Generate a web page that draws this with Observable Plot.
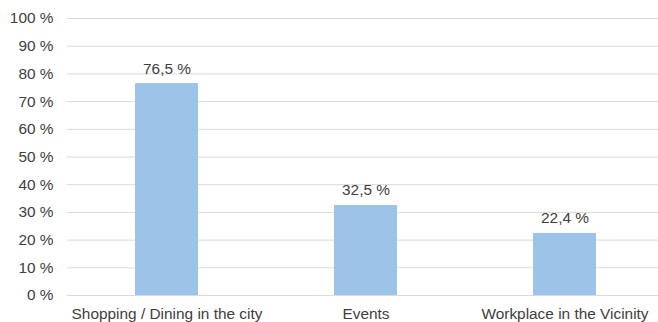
<!DOCTYPE html>
<html>
<head>
<meta charset="utf-8">
<script src="https://cdn.jsdelivr.net/npm/d3@7"></script>
<script src="https://cdn.jsdelivr.net/npm/@observablehq/plot@0.6"></script>
<style>
  html, body { margin: 0; padding: 0; background: #fff; overflow: hidden; }
  #chart svg { display: block; }
</style>
</head>
<body>
<div id="chart"></div>
<script>
// Share of respondents per reason (percent)
const categories = ["Shopping / Dining in the city", "Events", "Workplace in the Vicinity"];
const shares = [76.5, 32.5, 22.4];
const yTicks = [0, 10, 20, 30, 40, 50, 60, 70, 80, 90, 100];

const data = categories.map((c, i) => ({category: c, value: shares[i]}));
const pct = d => `${String(d).replace(".", ",")} %`;
const fs = 15.4;

const chart = Plot.plot({
  width: 658,
  height: 322,
  marginTop: 18,
  marginBottom: 27,
  marginLeft: 67,
  marginRight: 0,
  style: {fontFamily: "'Liberation Sans', Arial, sans-serif", fontSize: `${fs}px`, color: "#404040", background: "#fff"},
  x: {domain: categories, range: [67, 664], paddingInner: 0.683, paddingOuter: 0.3415, label: null},
  y: {domain: [0, 100], label: null},
  marks: [
    Plot.ruleY(yTicks, {stroke: "#d9d9d9", strokeWidth: 1}),
    Plot.barY(data, {x: "category", y: "value", fill: "#9cc3e8"}),
    Plot.text(data, {x: "category", y: "value", text: d => pct(d.value), lineAnchor: "bottom", dy: -10, fill: "#404040", fontSize: fs}),
    Plot.axisY({ticks: yTicks, tickSize: 0, tickPadding: 14, tickFormat: d => `${d} %`, fill: "#404040", fontSize: fs, label: null}),
    Plot.axisX({tickSize: 0, tickPadding: 13, fill: "#404040", fontSize: fs, label: null})
  ]
});

document.getElementById("chart").append(chart);
</script>
</body>
</html>
